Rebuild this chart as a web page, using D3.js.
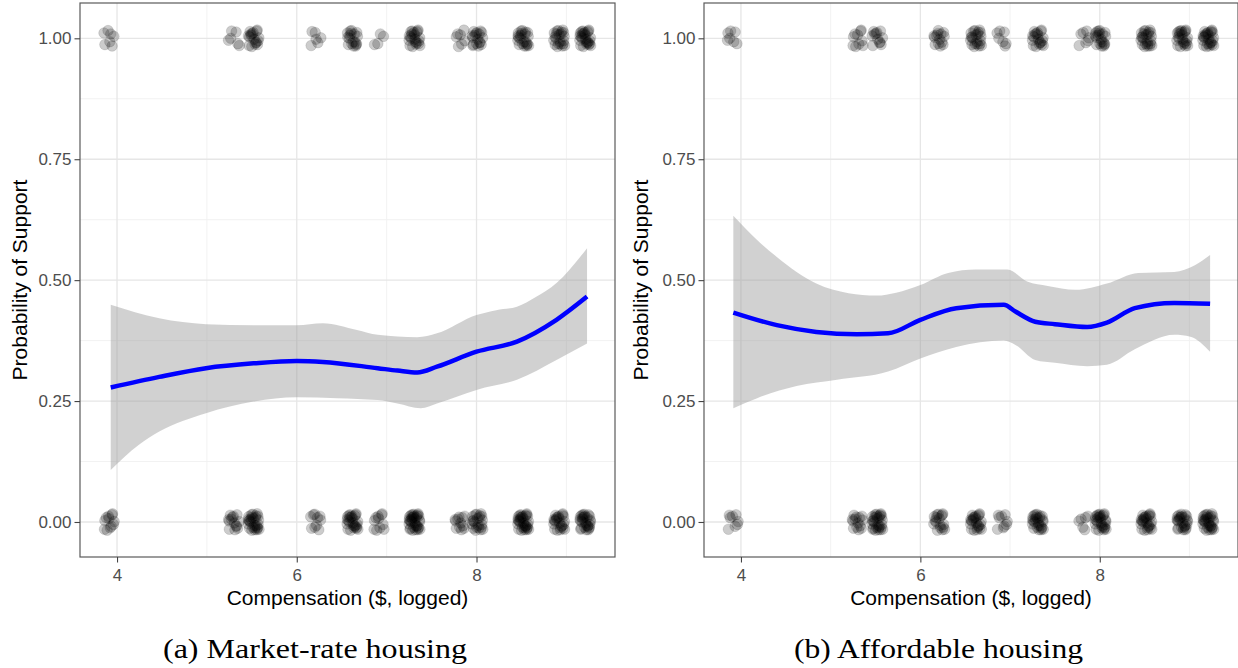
<!DOCTYPE html>
<html><head><meta charset="utf-8">
<script src="https://cdn.jsdelivr.net/npm/d3@7"></script>
<style>
html,body{margin:0;padding:0;background:#fff;}
svg{display:block;}
</style></head>
<body>
<svg id="chart" width="1238" height="668"></svg>
<script>
// ---------- data ----------
const compLevels = [3.91, 5.30, 5.52, 6.21, 6.62, 6.91, 7.31, 7.82, 8.01, 8.52, 8.92, 9.21];
const countsA_yes = [7, 6, 18, 6, 18, 4, 22, 7, 18, 22, 22, 26];
const countsA_no  = [12, 14, 28, 10, 26, 11, 34, 12, 22, 32, 24, 28];
const countsB_yes = [7, 10, 12, 14, 22, 7, 20, 7, 20, 24, 24, 26];
const countsB_no  = [8, 14, 28, 18, 24, 9, 26, 6, 28, 26, 26, 30];
const jitterDX = [0.02,-0.045,0.055,-0.01,0.035,-0.055,0.01,-0.025,0.045,-0.035,0.025,-0.06,0.06,0.0,-0.02,0.04,-0.045,0.015,0.05,-0.03,0.035,-0.05,-0.005,0.025,0.058,-0.04,0.005,-0.058,0.042,-0.015,0.03,-0.028,0.012,-0.052,0.048,-0.008];
const jitterDY = [0.009,-0.013,0.004,0.016,-0.016,0.011,-0.007,0.015,-0.011,0.0,0.013,-0.004,-0.015,0.007,-0.017,0.017,0.003,-0.012,-0.005,0.009,0.015,-0.015,0.012,-0.009,0.001,0.014,-0.002,0.005,-0.013,0.010,-0.008,0.006,-0.016,0.002,0.012,-0.011];

const fitA_x = [3.93,4.47,4.99,5.52,6.0,6.29,6.9,7.12,7.34,7.56,8.0,8.45,8.89,9.23];
const fitA_y = [0.278,0.300,0.318,0.328,0.333,0.331,0.318,0.313,0.309,0.321,0.352,0.373,0.418,0.466];
const upperA_x = [3.93,4.47,4.99,5.52,6.0,6.29,6.67,6.9,7.34,7.56,8.0,8.22,8.45,8.66,8.89,9.23];
const upperA_y = [0.449,0.421,0.409,0.407,0.407,0.411,0.397,0.387,0.382,0.39,0.428,0.438,0.445,0.465,0.494,0.566];
const lowerA_x = [3.93,4.24,4.47,4.99,5.52,6.0,6.45,6.9,7.12,7.38,7.56,7.78,8.0,8.45,8.89,9.23];
const lowerA_y = [0.1075,0.159,0.187,0.225,0.249,0.258,0.256,0.252,0.245,0.235,0.245,0.259,0.273,0.294,0.335,0.369];

const fitB_x = [3.915,4.40,4.84,5.29,5.64,6.0,6.40,6.93,7.06,7.28,7.50,7.86,8.08,8.39,8.83,9.23];
const fitB_y = [0.433,0.407,0.393,0.388,0.39,0.418,0.442,0.449,0.435,0.414,0.409,0.403,0.412,0.442,0.453,0.451];
const upperB_x = [3.915,4.18,4.40,4.62,4.84,5.20,5.51,5.73,6.0,6.31,6.62,6.97,7.19,7.42,7.73,8.08,8.43,8.83,9.06,9.23];
const upperB_y = [0.633,0.583,0.548,0.517,0.493,0.473,0.468,0.474,0.490,0.515,0.522,0.522,0.497,0.488,0.480,0.493,0.515,0.517,0.531,0.552];
const lowerB_x = [3.915,4.18,4.62,5.07,5.64,6.0,6.40,6.93,7.06,7.28,7.50,7.86,8.08,8.39,8.83,9.01,9.23];
const lowerB_y = [0.235,0.256,0.281,0.294,0.311,0.338,0.362,0.375,0.366,0.335,0.329,0.322,0.325,0.357,0.387,0.383,0.352];

const xTicks = [4, 6, 8];
const xMinor = [5, 7, 9];
const yTicks = [0, 0.25, 0.5, 0.75, 1];
const yMinor = [0.125, 0.375, 0.625, 0.875];
const xTitle = "Compensation ($, logged)";
const yTitle = "Probability of Support";
const captions = ["(a) Market-rate housing", "(b) Affordable housing"];

// ---------- layout ----------
const svg = d3.select("#chart");
const panelTop = 3, panelBottom = 557;
const panels = [
  {left: 80, right: 615, yes: countsA_yes, no: countsA_no,
   fit: [fitA_x, fitA_y], upper: [upperA_x, upperA_y], lower: [lowerA_x, lowerA_y],
   ytx: 27, cap: captions[0], capW: 304, capCx: 315},
  {left: 704, right: 1238, yes: countsB_yes, no: countsB_no,
   fit: [fitB_x, fitB_y], upper: [upperB_x, upperB_y], lower: [lowerB_x, lowerB_y],
   ytx: 648, cap: captions[1], capW: 289, capCx: 938.5}
];
const zip = (xs, ys) => xs.map((x, i) => [x, ys[i]]);

panels.forEach((p, pi) => {
  const x = d3.scaleLinear().domain([3.588, 9.541]).range([p.left, p.right]);
  const y = d3.scaleLinear().domain([-0.0724, 1.073]).range([panelBottom, panelTop]);
  const g = svg.append("g");
  const clipId = "clip" + pi;
  svg.append("clipPath").attr("id", clipId).append("rect")
    .attr("x", p.left).attr("y", panelTop).attr("width", p.right - p.left).attr("height", panelBottom - panelTop);

  // grid
  const grid = g.append("g");
  yMinor.forEach(v => grid.append("line").attr("x1", p.left).attr("x2", p.right)
    .attr("y1", y(v)).attr("y2", y(v)).attr("stroke", "#f0f0f0").attr("stroke-width", 0.9));
  xMinor.forEach(v => grid.append("line").attr("y1", panelTop).attr("y2", panelBottom)
    .attr("x1", x(v)).attr("x2", x(v)).attr("stroke", "#f0f0f0").attr("stroke-width", 0.9));
  yTicks.forEach(v => grid.append("line").attr("x1", p.left).attr("x2", p.right)
    .attr("y1", y(v)).attr("y2", y(v)).attr("stroke", "#e6e6e6").attr("stroke-width", 1.3));
  xTicks.forEach(v => grid.append("line").attr("y1", panelTop).attr("y2", panelBottom)
    .attr("x1", x(v)).attr("x2", x(v)).attr("stroke", "#e6e6e6").attr("stroke-width", 1.3));

  // jittered points
  const pts = [];
  compLevels.forEach((lv, li) => {
    [[1, p.yes[li]], [0, p.no[li]]].forEach(([outcome, n], oi) => {
      const start = (li * 7 + oi * 13 + pi * 5) % jitterDX.length;
      for (let k = 0; k < n; k++) {
        const j = (start + k) % jitterDX.length;
        pts.push([lv + jitterDX[j], outcome + jitterDY[j]]);
      }
    });
  });
  g.append("g").attr("clip-path", `url(#${clipId})`).selectAll("circle").data(pts).join("circle")
    .attr("cx", d => x(d[0])).attr("cy", d => y(d[1])).attr("r", 5.3)
    .attr("fill", "#000").attr("fill-opacity", 0.2)
    .attr("stroke", "#000").attr("stroke-opacity", 0.14).attr("stroke-width", 0.8);

  // ribbon
  const line = d3.line().x(d => x(d[0])).y(d => y(d[1])).curve(d3.curveMonotoneX);
  const up = zip(p.upper[0], p.upper[1]);
  const lo = zip(p.lower[0], p.lower[1]).reverse();
  const loPath = line(lo).replace(/^M/, "L");
  g.append("path").attr("d", line(up) + loPath + "Z")
    .attr("fill", "#999999").attr("fill-opacity", 0.45);

  // fit line
  g.append("path").attr("d", line(zip(p.fit[0], p.fit[1])))
    .attr("fill", "none").attr("stroke", "#0000ff").attr("stroke-width", 4.5)
    .attr("stroke-linecap", "butt");

  // border
  g.append("rect").attr("x", p.left).attr("y", panelTop).attr("width", p.right - p.left)
    .attr("height", panelBottom - panelTop).attr("fill", "none").attr("stroke", "#5a5a5a").attr("stroke-width", 1.2);

  // axes
  const ax = g.append("g").attr("transform", `translate(0,${panelBottom})`)
    .call(d3.axisBottom(x).tickValues(xTicks).tickFormat(d3.format("d")).tickSize(5.5).tickPadding(3));
  const ay = g.append("g").attr("transform", `translate(${p.left},0)`)
    .call(d3.axisLeft(y).tickValues(yTicks).tickFormat(d3.format(".2f")).tickSize(5.5).tickPadding(3));
  [ax, ay].forEach(a => {
    a.select(".domain").remove();
    a.selectAll(".tick line").attr("stroke", "#444").attr("stroke-width", 1.1);
    a.selectAll(".tick text").attr("fill", "#4d4d4d")
      .style("font-family", "'Liberation Sans', Arial, sans-serif").style("font-size", "17px");
  });
  ax.selectAll(".tick text").attr("dy", "0.9em");

  // titles
  g.append("text").attr("x", (p.left + p.right) / 2).attr("y", 605)
    .attr("text-anchor", "middle").attr("fill", "#000")
    .style("font-family", "'Liberation Sans', Arial, sans-serif").style("font-size", "21px")
    .text(xTitle);
  g.append("text").attr("transform", `translate(${p.ytx},${(panelTop + panelBottom) / 2}) rotate(-90)`)
    .attr("text-anchor", "middle").attr("fill", "#000")
    .style("font-family", "'Liberation Sans', Arial, sans-serif").style("font-size", "21px")
    .text(yTitle);

  // caption
  g.append("text").attr("x", p.capCx).attr("y", 658).attr("text-anchor", "middle")
    .attr("fill", "#000").style("font-family", "'Liberation Serif', 'Times New Roman', Times, serif")
    .style("font-size", "28px").attr("textLength", p.capW).attr("lengthAdjust", "spacingAndGlyphs")
    .text(p.cap);
});
</script>
</body></html>
